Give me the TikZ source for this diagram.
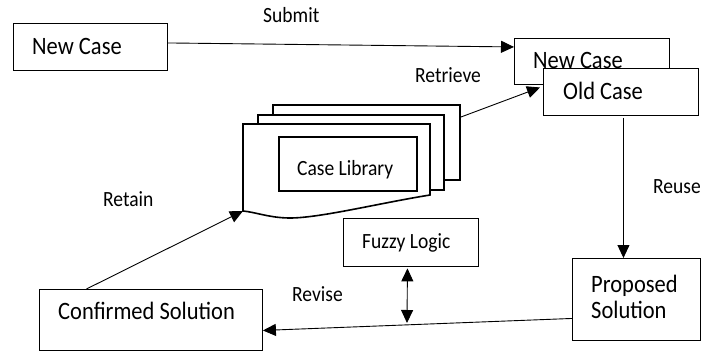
\documentclass[tikz,border=0pt]{standalone}
\usepackage{fontspec}
\setmainfont{Carlito}[FakeStretch=0.9]
\usetikzlibrary{arrows.meta}
\begin{document}
\begin{tikzpicture}[x=1pt,y=-1pt,
  box/.style={draw, line width=0.9pt, fill=white, inner sep=0pt, anchor=north west},
  txt/.style={inner sep=0pt, anchor=base west, font=\fontsize{25}{27}\selectfont},
  lbl/.style={inner sep=0pt, anchor=base west, font=\fontsize{21.7}{23}\selectfont},
  arr/.style={line width=0.9pt, -{Triangle[length=13pt,width=12pt]}},
  darr/.style={line width=0.9pt, {Triangle[length=13pt,width=12pt]}-{Triangle[length=13pt,width=12pt]}},
  sheet/.style={line width=1.6pt, line join=miter, fill=white}]
\fill[white] (0,0) rectangle (701,351);
\useasboundingbox (0,0) rectangle (701,351);

% left New Case
\node[box, minimum width=154pt, minimum height=47pt] (nc1) at (13,23) {};
\node[txt] (nc1t) at (32,54) {New Case};

% right New Case / Old Case
\node[box, minimum width=155pt, minimum height=46pt] (nc2) at (514,38) {};
\node[txt] (nc2t) at (533,68.5) {New Case};
\node[box, minimum width=155pt, minimum height=47pt] (oc) at (543,68) {};
\node[txt] (oct) at (563,99) {Old Case};

% case library stack
\draw[sheet] (273,124) -- (273,105) -- (460,105) -- (460,180) -- (444,180);
\draw[sheet] (258,124) -- (258,115) -- (444,115) -- (444,190) -- (430,190);
\draw[sheet] (243,124) -- (430,124) -- (430,195)
   .. controls (380,203) and (320,218) .. (290,218)
   .. controls (270,218) and (255,212) .. (243,211) -- cycle;
\node[box, line width=1.6pt, minimum width=138pt, minimum height=54pt] (lib) at (278,136) {};
\node[lbl] (libt) at (297,175) {Case Library};
\coordinate (libR) at (461,117);
\coordinate (libBL) at (243,211);

% fuzzy logic
\node[box, minimum width=135pt, minimum height=48pt] (fz) at (343,218) {};
\node[lbl] (fzt) at (362,248) {Fuzzy Logic};

% proposed solution
\node[box, minimum width=128pt, minimum height=82pt] (ps) at (572,258) {};
\node[txt] (pst1) at (591,292) {Proposed};
\node[txt] (pst2) at (591,318) {Solution};

% confirmed solution
\node[box, minimum width=223pt, minimum height=61pt] (cs) at (39,289) {};
\node[txt] (cst) at (58,319) {Confirmed Solution};

% labels
\node[lbl] (lsub) at (263,22) {Submit};
\node[lbl] (lret) at (415,82) {Retrieve};
\node[lbl] (lreu) at (653,193) {Reuse};
\node[lbl] (lrev) at (292,301) {Revise};
\node[lbl] (lrtn) at (103,206) {Retain};

% connectors
\draw[arr] ([yshift=4pt]nc1.east) -- ([yshift=14.5pt]nc2.west);
\draw[arr] (libR) -- ([xshift=-3pt,yshift=4.5pt]oc.west);
\coordinate (ru) at ([xshift=2.5pt,yshift=-2pt]oc.south);
\draw[arr] (ru) -- (ru |- ps.north);
\draw[arr] ([yshift=-19pt]ps.west) -- ([yshift=-10.5pt]cs.east);
\draw[arr] ([xshift=-64.5pt]cs.north) -- (libBL);
\coordinate (fzb) at (407,323);
\draw[darr] ([xshift=-3.5pt,yshift=-1.5pt]fz.south) -- (fzb);
\end{tikzpicture}
\end{document}
